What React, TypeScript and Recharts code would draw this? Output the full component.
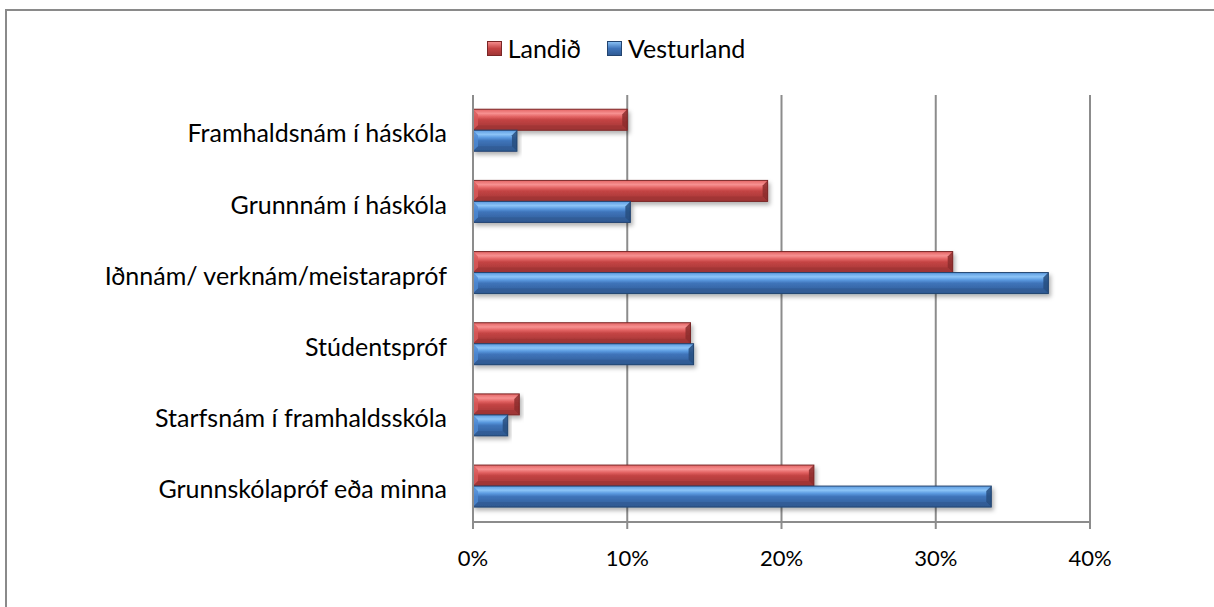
import { BarChart, Bar, XAxis, YAxis, CartesianGrid, Legend } from "recharts";

const categories = [
  "Framhaldsnám í háskóla",
  "Grunnnám í háskóla",
  "Iðnnám/ verknám/meistarapróf",
  "Stúdentspróf",
  "Starfsnám í framhaldsskóla",
  "Grunnskólapróf eða minna",
];
const landid = [10.0, 19.1, 31.1, 14.1, 3.0, 22.1];
const vesturland = [2.85, 10.2, 37.3, 14.3, 2.25, 33.6];
const xTicks = [0, 10, 20, 30, 40];
const bandTicks = [0, 1, 2, 3, 4, 5, 6];

const data = categories.map((name, i) => ({ name, landid: landid[i], vesturland: vesturland[i] }));

const FONT = "Lato, 'Open Sans', sans-serif";

const PAL: Record<string, { hi: string; top: string; mid: string; low: string; edge: string; left: string; right: string; name: string }> = {
  landid: { name: "Landið", hi: "#f79191", top: "#e36464", mid: "#c44444", low: "#9e3434", edge: "#7a2626", left: "#d85a5a", right: "#8c2d2d" },
  vesturland: { name: "Vesturland", hi: "#8cc4f7", top: "#5b9ae0", mid: "#3f74ba", low: "#2f5a93", edge: "#23446f", left: "#4f8ad3", right: "#274d7f" },
};

function BevelBar(props: any) {
  const { x, y, width, height, dataKey } = props;
  const p = PAL[dataKey];
  if (!p || width <= 0 || height <= 0) return null;
  const b = Math.min(5, width / 2, height / 3);
  const r = x + width;
  const btm = y + height;
  return (
    <g filter="url(#barShadow)">
      <rect x={x} y={y} width={width} height={height} fill={`url(#grad-${dataKey})`} />
      <polygon points={`${x},${y} ${x + b},${y + b} ${x + b},${btm - b} ${x},${btm}`} fill={p.left} opacity={0.8} />
      <polygon points={`${r},${y} ${r - b},${y + b} ${r - b},${btm - b} ${r},${btm}`} fill={p.right} opacity={0.85} />
      <polygon points={`${x},${btm} ${r},${btm} ${r - b},${btm - b} ${x + b},${btm - b}`} fill={p.low} opacity={0.7} />
      <rect x={x} y={y} width={width} height={height} fill="none" stroke={p.edge} strokeWidth={1} />
    </g>
  );
}

function LegendBox() {
  return (
    <div style={{ display: "flex", justifyContent: "center", alignItems: "center", gap: 26, fontFamily: FONT, fontSize: 25, color: "#000", height: 30, paddingLeft: 18 }}>
      {(["landid", "vesturland"] as const).map((k) => (
        <div key={k} style={{ display: "flex", alignItems: "center", gap: 6 }}>
          <svg width={15} height={15}>
            <rect x={0.5} y={0.5} width={14} height={14} fill={`url(#lg-${k})`} stroke={PAL[k].edge} />
            <defs>
              <linearGradient id={`lg-${k}`} x1="0" y1="0" x2="0" y2="1">
                <stop offset="0" stopColor={PAL[k].hi} />
                <stop offset="0.5" stopColor={PAL[k].mid} />
                <stop offset="1" stopColor={PAL[k].low} />
              </linearGradient>
            </defs>
          </svg>
          <span>{PAL[k].name}</span>
        </div>
      ))}
    </div>
  );
}

export default function App() {
  return (
    <div style={{ position: "absolute", left: 0, top: 0, width: 1214, height: 607, overflow: "hidden", background: "#fff" }}>
      <div style={{ position: "absolute", left: 5, top: 9, width: 1400, height: 800, border: "2px solid #8a8a8a" }} />
      <div style={{ position: "absolute", left: 0, top: 0 }}>
        <BarChart
          width={1214}
          height={607}
          data={data}
          layout="vertical"
          barCategoryGap="20%"
          barGap={0}
          margin={{ top: 65, right: 124, bottom: 45, left: 0 }}
        >
          <defs>
            {(["landid", "vesturland"] as const).map((k) => (
              <linearGradient key={k} id={`grad-${k}`} x1="0" y1="0" x2="0" y2="1">
                <stop offset="0" stopColor={PAL[k].top} />
                <stop offset="0.2" stopColor={PAL[k].hi} />
                <stop offset="0.35" stopColor={PAL[k].top} />
                <stop offset="0.5" stopColor={PAL[k].mid} />
                <stop offset="1" stopColor={PAL[k].low} />
              </linearGradient>
            ))}
            <filter id="barShadow" x="-5%" y="-20%" width="115%" height="160%">
              <feDropShadow dx={2} dy={3} stdDeviation={2} floodColor="#000" floodOpacity={0.3} />
            </filter>
          </defs>
          <CartesianGrid yAxisId="cat" horizontal={false} stroke="#8c8c8c" strokeWidth={2} />
          <XAxis
            type="number"
            domain={[0, 40]}
            ticks={xTicks}
            tickFormatter={(v) => `${v}%`}
            stroke="#8c8c8c"
            strokeWidth={2}
            tickSize={7}
            tickMargin={21}
            height={40}
            tick={{ fill: "#000", fontSize: 22, fontFamily: FONT }}
          />
          <YAxis
            yAxisId="bands"
            type="number"
            domain={[0, 6]}
            ticks={bandTicks}
            reversed
            width={1}
            tick={false}
            tickSize={8}
            stroke="#8c8c8c"
            strokeWidth={2}
          />
          <YAxis
            yAxisId="cat"
            type="category"
            dataKey="name"
            width={472}
            axisLine={false}
            tickSize={0}
            tickLine={false}
            tickMargin={25}
            tick={{ fill: "#000", fontSize: 25, fontFamily: FONT, dy: 3 }}
          />
          <Legend
            verticalAlign="top"
            align="center"
            content={() => <LegendBox />}
            wrapperStyle={{ top: 33, left: 0, width: 1214 }}
          />
          <Bar yAxisId="cat" dataKey="landid" name="Landið" shape={<BevelBar />} isAnimationActive={false} />
          <Bar yAxisId="cat" dataKey="vesturland" name="Vesturland" shape={<BevelBar />} isAnimationActive={false} />
        </BarChart>
      </div>
    </div>
  );
}
